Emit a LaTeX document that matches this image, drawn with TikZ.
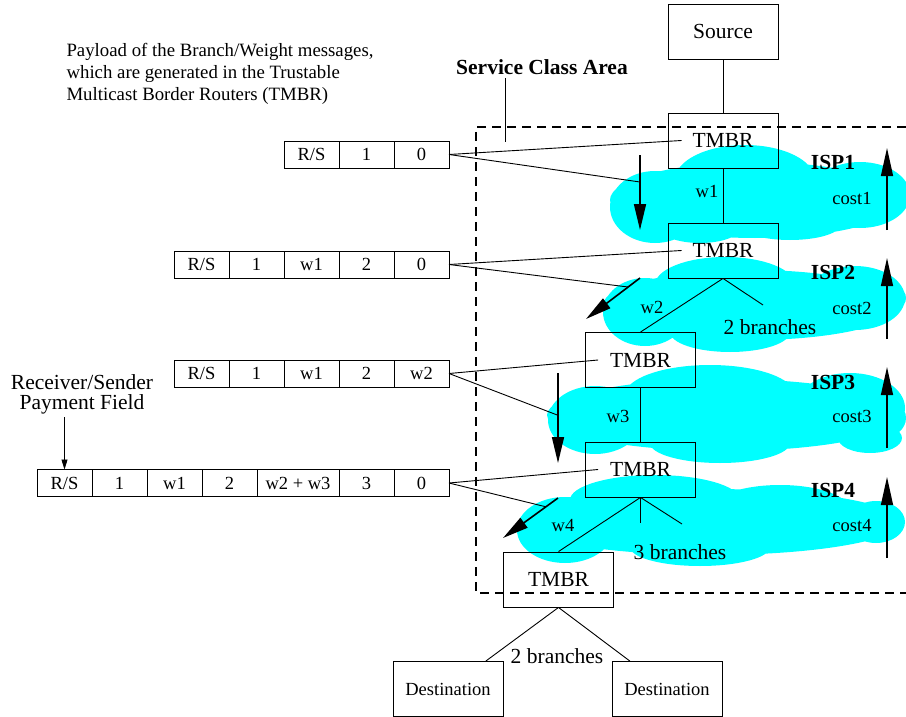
\documentclass[tikz,border=0pt]{standalone}
\usepackage{fontspec}
\setmainfont{Liberation Serif}
\usetikzlibrary{arrows.meta,positioning,calc}

\definecolor{ispcyan}{RGB}{0,255,255}
\tikzset{
  big/.style={font=\fontsize{21.5}{22}\selectfont},
  bigbold/.style={font=\fontsize{21.5}{22}\selectfont\bfseries},
  small/.style={font=\fontsize{18.5}{20}\selectfont},
  router/.style={draw, line width=0.9pt, minimum width=110pt, minimum height=55pt, inner sep=0pt, big},
  endbox/.style={draw, line width=0.9pt, minimum width=110pt, minimum height=55pt, inner sep=0pt, small},
  cell/.style={draw, line width=0.9pt, minimum width=55pt, minimum height=27pt, inner sep=0pt, outer sep=0pt, small},
  wire/.style={line width=0.9pt},
  flow/.style={line width=1.6pt, -{Triangle[length=26pt,width=12pt]}},
  costflow/.style={line width=1.3pt, -{Triangle[length=28pt,width=12pt]}},
  ispcloud/.style={fill=ispcyan},
}

\begin{document}
\begin{tikzpicture}[x=1pt,y=-1pt]
\useasboundingbox (0,0) rectangle (906,717);
% ISP clouds
\fill[ispcloud] (755,200) ellipse (145 and 38) (745,180) ellipse (70 and 35)
  (655,207) ellipse (45 and 36) (700,228) ellipse (40 and 15)
  (790,225) ellipse (50 and 15) (860,195) ellipse (50 and 33)
  (880,199) ellipse (28 and 19);
\fill[ispcloud] (752,305) ellipse (149 and 35) (725,285) ellipse (70 and 28)
  (645,312) ellipse (42 and 34) (730,332) ellipse (60 and 20)
  (855,298) ellipse (50 and 32) (880,298) ellipse (26 and 17);
\fill[ispcloud] (725,415) ellipse (178 and 36) (710,395) ellipse (85 and 30)
  (595,420) ellipse (47 and 34) (720,443) ellipse (70 and 20)
  (850,408) ellipse (55 and 35) (870,438) ellipse (32 and 15)
  (882,418) ellipse (24 and 20);
\fill[ispcloud] (711,522) ellipse (190 and 33) (655,500) ellipse (85 and 25)
  (780,510) ellipse (70 and 25) (565,530) ellipse (48 and 33)
  (700,547) ellipse (70 and 19) (876,522) ellipse (29 and 21);
% service class area
\draw[line width=1.1pt, dash pattern=on 9pt off 6pt] (906,127) -- (476,127) -- (476,593) -- (906,593);
\node[bigbold] (sca) at (542,67) {Service Class Area};
\coordinate (scatick) at (505,142);
\draw[wire] (scatick |- sca.south) -- (scatick);

% routers
\node[router] (src) at (723,31.5) {Source};
\node[router] (t1) at (723,140.5) {TMBR};
\node[router] (t2) at (723,250.5) {TMBR};
\node[router] (t3) at (640.5,360) {TMBR};
\node[router] (t4) at (640.5,469.5) {TMBR};
\node[router] (t5) at (558.5,579.5) {TMBR};
\node[endbox] (d1) at (448,689) {Destination};
\node[endbox] (d2) at (667,689) {Destination};

% tree
\coordinate (b2) at (763,305);
\coordinate (b4a) at (640.5,523);
\coordinate (b4b) at (682,524);
\draw[wire] (src) -- (t1);
\draw[wire] (t1) -- (t2);
\draw[wire] (t2.south) -- (t3.north);
\draw[wire] (t2.south) -- (b2);
\draw[wire] (t3) -- (t4);
\draw[wire] (t4.south) -- (t5.north);
\draw[wire] (t4.south) -- (b4a);
\draw[wire] (t4.south) -- (b4b);
\draw[wire] (t5.south) -- (d1);
\draw[wire] (t5.south) -- (d2);
\node[small] (w1) at (707,191) {w1};
\node[small] (w2) at (652,307) {w2};
\node[small] (w3) at (618,416) {w3};
\node[small] (w4) at (563,525) {w4};
\node[big] (br2) at (770,327) {2 branches};
\node[big] (br3) at (680,552) {3 branches};
\node[big] (br5) at (557,656) {2 branches};

% ISP labels and costs
\node[bigbold] (isp1) at (833,162) {ISP1};
\node[bigbold] (isp2) at (833,272) {ISP2};
\node[bigbold] (isp3) at (833,382) {ISP3};
\node[bigbold] (isp4) at (833,490) {ISP4};
\node[small] (c1) at (852,198) {cost1};
\node[small] (c2) at (852,308) {cost2};
\node[small] (c3) at (852,416) {cost3};
\node[small] (c4) at (852,525) {cost4};
\draw[costflow] (887,230) -- (887,148);
\draw[costflow] (887,339) -- (887,258);
\draw[costflow] (887,448) -- (887,367);
\draw[costflow] (887,558) -- (887,477);

% message flow
\coordinate (a1s) at (640,155); \coordinate (a1e) at (640,230);
\coordinate (a2s) at (640,278); \coordinate (a2e) at (586,319);
\coordinate (a3s) at (558,373); \coordinate (a3e) at (558,463);
\coordinate (a4s) at (558,498); \coordinate (a4e) at (503,538);
\draw[flow] (a1s) -- (a1e);
\draw[flow] (a2s) -- (a2e);
\draw[flow] (a3s) -- (a3e);
\draw[flow] (a4s) -- (a4e);

% payloads
\node[font=\fontsize{18.8}{22}\selectfont, align=left, anchor=west] (payload) at (63,74)
  {Payload of the Branch/Weight messages,\\which are generated in the Trustable\\Multicast Border Routers (TMBR)};
\node[cell] (m1a) at (311.5,154.5) {R/S};
\node[cell, right=0pt of m1a] (m1b) {1};
\node[cell, right=0pt of m1b] (m1c) {0};
\node[cell] (m2a) at (201.5,264.5) {R/S};
\node[cell, right=0pt of m2a] (m2b) {1};
\node[cell, right=0pt of m2b] (m2c) {w1};
\node[cell, right=0pt of m2c] (m2d) {2};
\node[cell, right=0pt of m2d] (m2e) {0};
\node[cell] (m3a) at (201.5,373.5) {R/S};
\node[cell, right=0pt of m3a] (m3b) {1};
\node[cell, right=0pt of m3b] (m3c) {w1};
\node[cell, right=0pt of m3c] (m3d) {2};
\node[cell, right=0pt of m3d] (m3e) {w2};
\node[cell] (m4a) at (64.5,483) {R/S};
\node[cell, right=0pt of m4a] (m4b) {1};
\node[cell, right=0pt of m4b] (m4c) {w1};
\node[cell, right=0pt of m4c] (m4d) {2};
\node[cell, right=0pt of m4d, minimum width=82pt] (m4e) {w2 + w3};
\node[cell, right=0pt of m4e] (m4f) {3};
\node[cell, right=0pt of m4f] (m4g) {0};
\draw[wire] (m1c.east) -- ([xshift=14pt]t1.west);
\draw[wire] (m1c.east) -- ($(a1s)!0.36!(a1e)$);
\draw[wire] (m2e.east) -- ([xshift=14pt]t2.west);
\draw[wire] (m2e.east) -- ($(a2s)!0.22!(a2e)$);
\draw[wire] (m3e.east) -- ([xshift=13pt]t3.west);
\draw[wire] (m3e.east) -- ($(a3s)!0.47!(a3e)$);
\draw[wire] (m4g.east) -- ([xshift=13pt]t4.west);
\draw[wire] (m4g.east) -- ($(a4s)!0.22!(a4e)$);

% payment field
\node[font=\fontsize{21.5}{20}\selectfont, align=center] (rcv) at (82,394) {Receiver/Sender\\Payment Field};
\draw[wire, -{Triangle[length=10pt,width=6pt]}] (m4a.north |- rcv.south) -- (m4a.north);
\end{tikzpicture}
\end{document}
